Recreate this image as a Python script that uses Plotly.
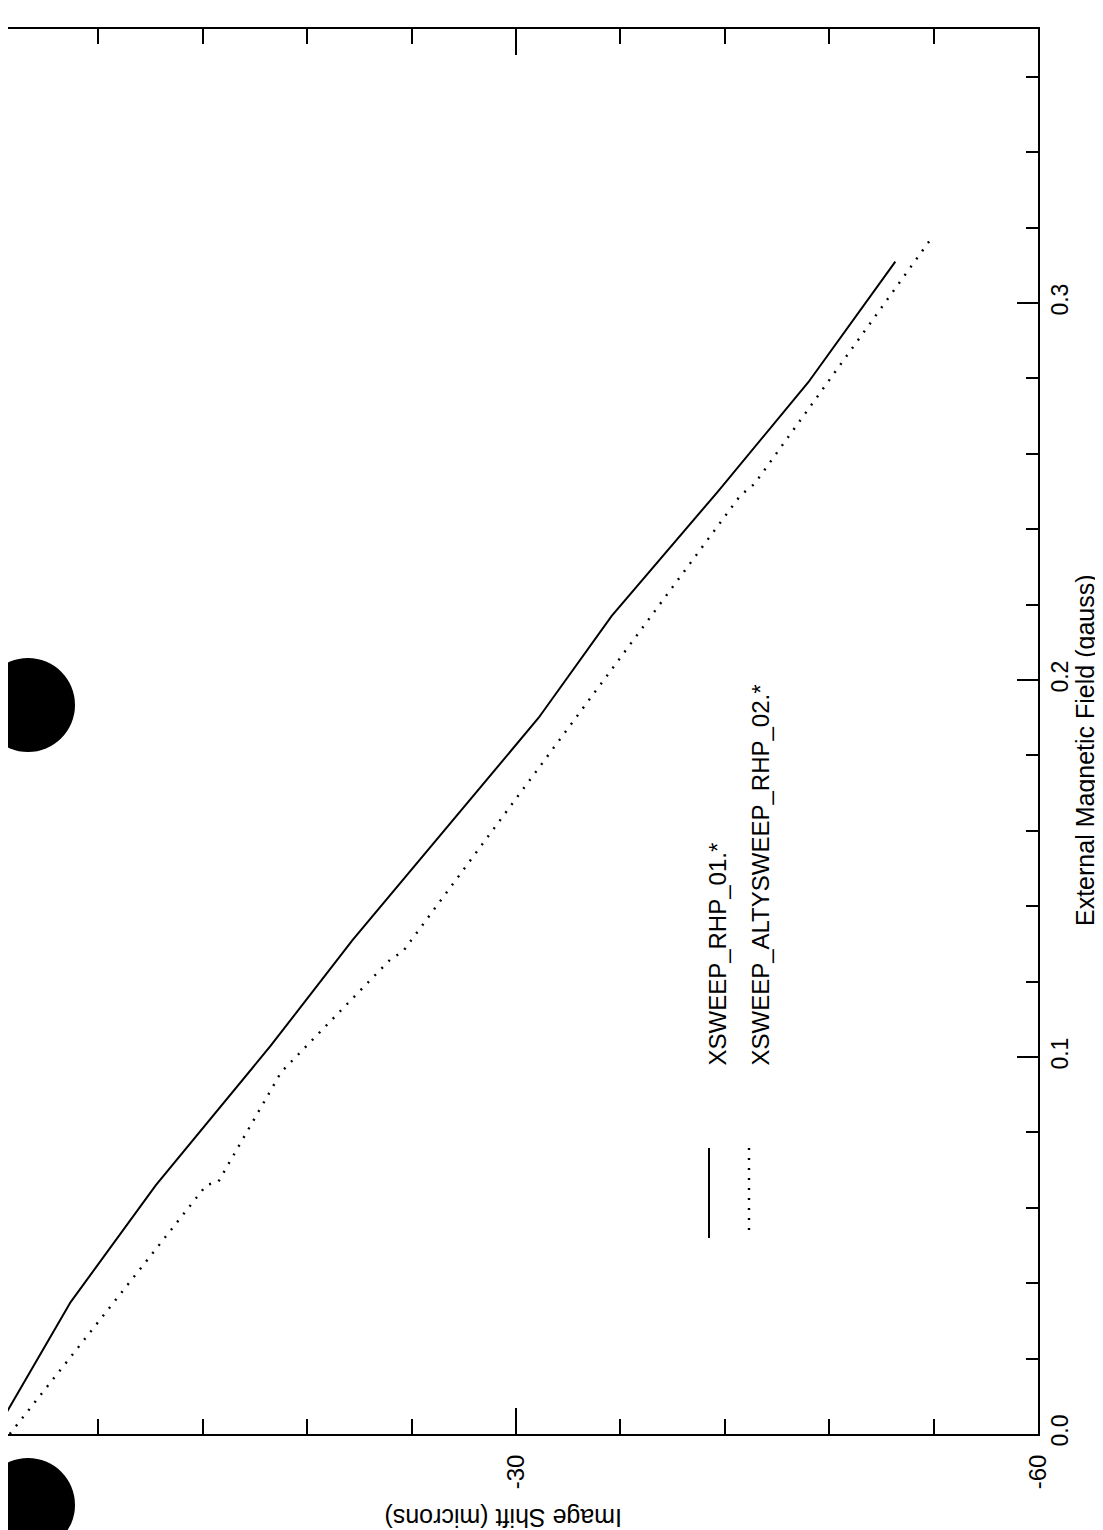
import plotly.graph_objects as go

# ---- data (field in gauss, image shift in microns) ----
field_solid = [0.0, 0.035, 0.066, 0.103, 0.131, 0.190, 0.217, 0.250, 0.279, 0.311]
shift_solid = [0.0, -4.4, -9.3, -15.9, -20.6, -31.3, -35.5, -41.6, -46.8, -51.8]

field_dotted = [0.0, 0.066, 0.067, 0.096, 0.126, 0.128, 0.249, 0.252, 0.318]
shift_dotted = [-0.9, -12.2, -12.9, -16.5, -22.8, -23.5, -42.9, -43.7, -54.0]

series_names = ["XSWEEP_RHP_01.*", "XSWEEP_ALTYSWEEP_RHP_02.*"]

shift_major_ticks = [-60, -30]
shift_major_labels = ["-60", "-30"]
shift_minor_ticks = [-54, -48, -42, -36, -24, -18, -12, -6]
field_major_ticks = [0.0, 0.1, 0.2, 0.3]
field_major_labels = ["0.0", "0.1", "0.2", "0.3"]
field_minor_ticks = [0.02, 0.04, 0.06, 0.08, 0.12, 0.14, 0.16, 0.18,
                     0.22, 0.24, 0.26, 0.28, 0.32, 0.34, 0.36]

W, H = 1103, 1530
L, R, T, B = 0, 1030, 21, 1426   # plot area in pixels
FONT = "Liberation Sans, Arial, sans-serif"


def px(x):
    return (x - L) / (R - L)


def py(y):
    return (B - y) / (B - T)


fig = go.Figure()
fig.add_trace(go.Scatter(x=shift_solid, y=field_solid, mode="lines",
                         name=series_names[0],
                         line=dict(color="black", width=2)))
fig.add_trace(go.Scatter(x=shift_dotted, y=field_dotted, mode="lines",
                         name=series_names[1],
                         line=dict(color="black", width=2.4, dash="2px,8px")))

fig.update_layout(
    width=W, height=H,
    margin=dict(l=L, r=W - R, t=T, b=H - B, pad=0),
    paper_bgcolor="white", plot_bgcolor="white",
    showlegend=False,
    font=dict(family=FONT, size=24, color="black"),
)

fig.update_xaxes(
    range=[-0.8, -60], showgrid=False, zeroline=False,
    showline=True, linecolor="black", linewidth=2, mirror="ticks",
    ticks="inside", ticklen=26, tickwidth=2, tickcolor="black",
    tickmode="array", tickvals=shift_major_ticks, ticktext=shift_major_labels,
    tickangle=-90, ticklabelstandoff=9,
    tickfont=dict(family=FONT, size=24, color="black"),
    minor=dict(tickmode="array", tickvals=shift_minor_ticks, ticks="inside",
               ticklen=15, tickwidth=2, tickcolor="black", showgrid=False),
)
fig.update_yaxes(
    range=[0, 0.3727], side="right", showgrid=False, zeroline=False,
    showline=True, linecolor="black", linewidth=2, mirror=False,
    ticks="inside", ticklen=21, tickwidth=2, tickcolor="black",
    tickmode="array", tickvals=field_major_ticks, ticktext=field_major_labels,
    tickangle=-90, ticklabelstandoff=0,
    tickfont=dict(family=FONT, size=23, color="black"),
    minor=dict(tickmode="array", tickvals=field_minor_ticks, ticks="inside",
               ticklen=12, tickwidth=2, tickcolor="black", showgrid=False),
)

annotations = [
    dict(text="External Magnetic Field (gauss)", textangle=-90,
         x=px(1077), y=py(742), xref="paper", yref="paper",
         xanchor="center", yanchor="middle", showarrow=False,
         font=dict(family=FONT, size=25, color="black")),
    dict(text="Image Shift (microns)", textangle=180,
         x=px(495), y=py(1510), xref="paper", yref="paper",
         xanchor="center", yanchor="middle", showarrow=False,
         font=dict(family=FONT, size=25, color="black")),
    dict(text=series_names[0], textangle=-90,
         x=px(709), y=py(1060), xref="paper", yref="paper",
         xanchor="center", yanchor="bottom", showarrow=False,
         font=dict(family=FONT, size=24, color="black")),
    dict(text=series_names[1], textangle=-90,
         x=px(752), y=py(1060), xref="paper", yref="paper",
         xanchor="center", yanchor="bottom", showarrow=False,
         font=dict(family=FONT, size=24, color="black")),
]
fig.update_layout(annotations=annotations)

shapes = [
    # legend samples
    dict(type="line", xref="paper", yref="paper",
         x0=px(701), x1=px(701), y0=py(1140), y1=py(1230),
         line=dict(color="black", width=2)),
    dict(type="line", xref="paper", yref="paper",
         x0=px(741), x1=px(741), y0=py(1140), y1=py(1230),
         line=dict(color="black", width=2.4, dash="2px,8px")),
    # punched holes of the scanned page
    dict(type="circle", xref="paper", yref="paper",
         x0=px(-27), x1=px(67), y0=py(650), y1=py(744),
         fillcolor="black", line=dict(color="black", width=0)),
    dict(type="circle", xref="paper", yref="paper",
         x0=px(-27), x1=px(67), y0=py(1450), y1=py(1544),
         fillcolor="black", line=dict(color="black", width=0)),
]
fig.update_layout(shapes=shapes)

fig.write_html("out.html")
